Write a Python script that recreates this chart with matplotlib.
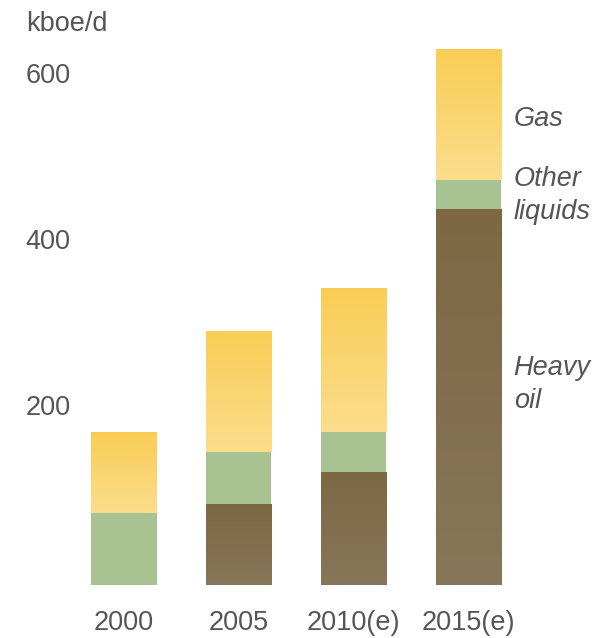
import numpy as np
import matplotlib
matplotlib.use("Agg")
import matplotlib.pyplot as plt
from matplotlib.colors import LinearSegmentedColormap
from matplotlib.transforms import ScaledTranslation

# Production by type, kboe/d
years = ["2000", "2005", "2010(e)", "2015(e)"]
heavy_oil = [0, 98, 136, 453]
other_liquids = [87, 62, 48, 34]
gas = [97, 146, 174, 158]
series_names = ["Heavy\noil", "Other\nliquids", "Gas"]
y_ticks = [200, 400, 600]

plt.rcParams["font.family"] = ["Liberation Sans", "DejaVu Sans"]
text_color = "#555555"

fig = plt.figure(figsize=(5.99, 6.38), dpi=100)
fig_h = 638
ax = fig.add_axes([80 / 599, (638 - 585) / fig_h, (599 - 80) / 599, 540 / fig_h])

x = np.arange(len(years))
width = 0.567

heavy = np.array(heavy_oil, float)
other = np.array(other_liquids, float)
gs = np.array(gas, float)

brown_cmap = LinearSegmentedColormap.from_list("brown", ["#7d6843", "#88765a"])
gas_cmap = LinearSegmentedColormap.from_list("gas", ["#f9cd55", "#fbdd8c"])
grad = np.linspace(0, 1, 256).reshape(-1, 1)


def gradient_bars(bottoms, heights, cmap):
    bars = ax.bar(x, heights, width, bottom=bottoms, color="none", linewidth=0)
    for rect in bars:
        if rect.get_height() <= 0:
            continue
        x0, y0 = rect.get_x(), rect.get_y()
        im = ax.imshow(grad, cmap=cmap, aspect="auto",
                       extent=[x0, x0 + rect.get_width(), y0, y0 + rect.get_height()],
                       origin="upper", zorder=2, interpolation="bilinear")
        im.set_clip_path(rect)
    return bars


gradient_bars(np.zeros_like(heavy), heavy, brown_cmap)
ax.bar(x, other, width, bottom=heavy, color="#a8c291", linewidth=0, zorder=2)
gradient_bars(heavy + other, gs, gas_cmap)
ax.set_xlim(-(124 - 80) / 114.7, (599 - 124) / 114.7)
ax.set_ylim(0, 650)

for s in ax.spines.values():
    s.set_visible(False)

ax.set_xticks(x)
ax.set_xticklabels(years, fontsize=19.5, color=text_color)
ax.tick_params(axis="x", length=0, pad=18)

ax.set_yticks(y_ticks)
ax.set_yticklabels([str(v) for v in y_ticks], fontsize=19.5, color=text_color)
ax.tick_params(axis="y", length=0, pad=7)
shift = ScaledTranslation(0, 14 / 100, fig.dpi_scale_trans)
for lab in ax.get_yticklabels():
    lab.set_transform(lab.get_transform() + shift)

fig.text(26 / 599, 1 - 11 / fig_h, "kboe/d", fontsize=19.5, color=text_color,
         ha="left", va="top")

# Series labels beside the last bar
last = len(years) - 1
lx = x[last] + width / 2 + 13 / 114.7
mids = [heavy[last] / 2 + 15,
        heavy[last] + other[last] / 2 - 1,
        heavy[last] + other[last] + gs[last] / 2 - 4.5]
for name, ym in zip(series_names, mids):
    ax.text(lx, ym, name, fontsize=19.5, style="italic", color=text_color,
            ha="left", va="center", linespacing=1.32)

fig.savefig("out.png", dpi=100)
